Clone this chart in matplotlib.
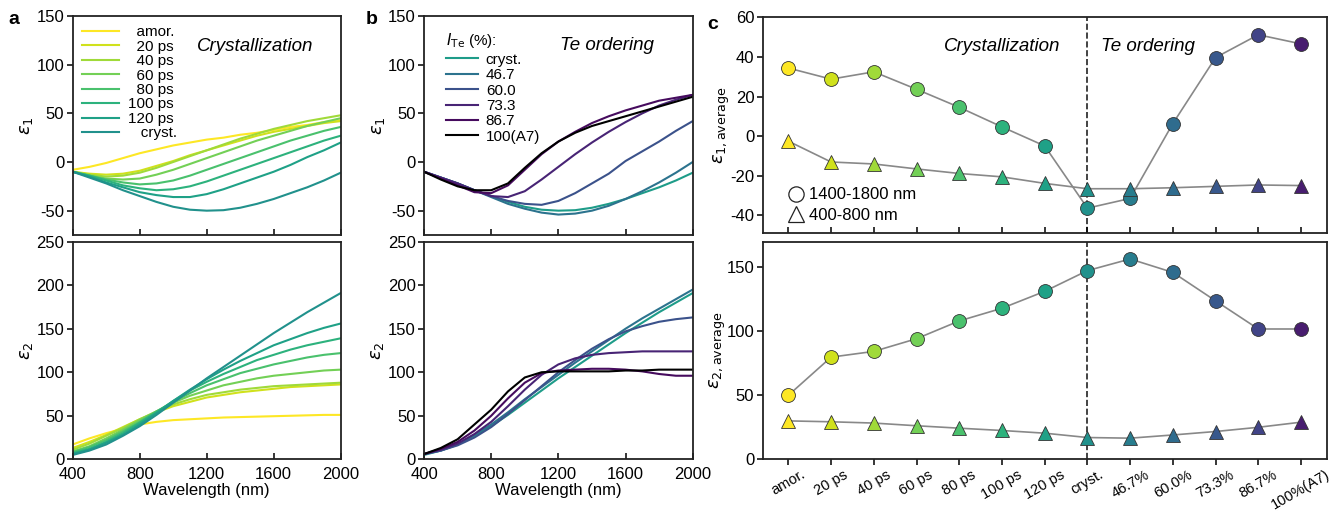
import numpy as np
import matplotlib
matplotlib.use('Agg')
import matplotlib.pyplot as plt
from matplotlib.lines import Line2D

plt.rcParams['font.family'] = ['Liberation Sans', 'DejaVu Sans']
plt.rcParams['font.size'] = 12
plt.rcParams['mathtext.fontset'] = 'dejavusans'
plt.rcParams['axes.unicode_minus'] = False

# wavelength grid (nm)
wl = [400, 500, 600, 700, 800, 900, 1000, 1100, 1200, 1300, 1400, 1500, 1600, 1700, 1800, 1900, 2000]

# crystallization series
cryst_labels = ['\u2007amor.', '\u200720 ps', '\u200740 ps', '\u200760 ps', '\u200780 ps',
                '100 ps', '120 ps', '\u2007 cryst.']
eps1_cryst = [
    [-8, -5, -1, 4, 9, 13, 17, 20, 23, 25, 28, 30, 33, 36, 38, 41, 43],
    [-10, -12, -13, -12, -9, -4, 1, 7, 12, 17, 22, 27, 31, 34, 37, 40, 42],
    [-10, -13, -15, -14, -11, -6, 0, 6, 12, 18, 24, 29, 34, 38, 42, 45, 48],
    [-10, -14, -17, -18, -17, -13, -8, -2, 4, 10, 16, 22, 27, 32, 37, 41, 45],
    [-10, -14, -18, -21, -23, -22, -19, -14, -8, -2, 4, 10, 16, 22, 27, 32, 36],
    [-10, -14, -19, -24, -27, -29, -28, -25, -20, -14, -8, -2, 4, 10, 16, 22, 27],
    [-10, -15, -21, -26, -31, -34, -36, -36, -33, -28, -22, -16, -10, -3, 5, 12, 20],
    [-10, -16, -22, -29, -35, -41, -46, -49, -50, -49.5, -47, -43, -38, -32, -26, -19, -11],
]
eps2_cryst = [
    [17, 24, 30, 35, 40, 43, 45, 46, 47, 48, 48.5, 49, 49.5, 50, 50.5, 51, 51],
    [13, 20, 28, 37, 46, 54, 61, 66, 71, 74, 77, 79, 81, 83, 84, 85, 86],
    [11, 18, 27, 36, 46, 55, 63, 69, 74, 77, 80, 82, 84, 85, 86, 87, 88],
    [9, 15, 24, 34, 45, 55, 65, 73, 79, 85, 89, 93, 96, 98, 100, 102, 103],
    [8, 14, 22, 32, 43, 55, 66, 76, 85, 92, 99, 104, 109, 113, 117, 120, 122],
    [7, 12, 20, 30, 42, 54, 67, 79, 89, 98, 106, 114, 120, 126, 131, 135, 139],
    [6, 11, 19, 28, 40, 53, 67, 80, 92, 103, 113, 122, 131, 138, 145, 151, 156],
    [5, 10, 17, 27, 38, 51, 65, 79, 93, 106, 119, 132, 145, 157, 169, 180, 191],
]

# Te ordering series
te_labels = ['cryst.', '46.7', '60.0', '73.3', '86.7', '100(A7)']
eps1_te = [
    [-10, -16, -22, -29, -35, -41, -46, -49, -50, -49.5, -47, -43, -38, -32, -26, -19, -11],
    [-10, -16, -22, -29, -36, -43, -48, -52, -54, -53, -50, -45, -38, -30, -21, -11, 0],
    [-10, -16, -22, -29, -35, -40, -43, -44, -40, -32, -22, -12, 1, 11, 21, 32, 42],
    [-10, -16, -22, -29, -35, -36, -30, -18, -5, 8, 20, 31, 41, 50, 58, 64, 69],
    [-10, -17, -24, -31, -32, -24, -8, 8, 21, 31, 40, 47, 53, 58, 63, 66, 69],
    [-10, -18, -25, -29, -29, -22, -6, 9, 21, 30, 37, 42, 47, 52, 57, 62, 67],
]
eps2_te = [
    [5, 10, 17, 27, 38, 51, 65, 79, 93, 106, 119, 132, 145, 157, 169, 180, 191],
    [6, 10, 17, 28, 40, 54, 69, 83, 97, 111, 124, 137, 150, 162, 173, 184, 195],
    [6, 10, 16, 25, 37, 52, 68, 84, 100, 114, 127, 138, 147, 153, 158, 161, 163],
    [6, 11, 18, 29, 43, 61, 80, 97, 109, 116, 120, 122, 123, 124, 124, 124, 124],
    [6, 12, 20, 33, 50, 70, 88, 99, 102, 103, 104, 104, 103, 101, 98, 96, 96],
    [6, 13, 23, 40, 57, 78, 94, 100, 101, 101, 101, 101, 102, 102, 103, 103, 103],
]

# spectral averages
states = ['amor.', '20 ps', '40 ps', '60 ps', '80 ps', '100 ps', '120 ps', 'cryst.',
          '46.7%', '60.0%', '73.3%', '86.7%', '100%(A7)']
e1_long = [34.4, 28.8, 32.5, 23.7, 14.6, 4.7, -4.9, -36.3, -31.4, 6.4, 39.7, 51.2, 46.6]
e1_short = [-2.5, -13, -14, -16.5, -18.8, -20.5, -23.8, -26.5, -26.5, -26, -25.3, -24.6, -24.9]
e2_long = [50, 79.8, 84.3, 94.2, 108.1, 118, 131.2, 147.4, 156.5, 146, 123.8, 101.8, 101.8]
e2_short = [30, 29.3, 28.3, 26.2, 24.3, 22.5, 20.4, 17, 16.5, 19, 21.7, 25, 29]

cmap = plt.get_cmap('viridis')
cols_a = [cmap(v) for v in np.linspace(1.0, 0.5, 8)]
cols_b = [cmap(0.55), cmap(0.38), cmap(0.25), cmap(0.1), cmap(0.03), 'black']
cols_c = [cmap(v) for v in np.linspace(1.0, 0.5, 8)] + [cmap(v) for v in [0.42, 0.35, 0.27, 0.2, 0.08]]

spine_col = '#222222'


def style(ax, xin=True):
    for s in ax.spines.values():
        s.set_linewidth(1.3)
        s.set_color(spine_col)
    ax.tick_params(axis='y', direction='out', length=4, width=1.1, labelsize=12, pad=2)
    ax.tick_params(axis='x', direction='in' if xin else 'out', length=4, width=1.1,
                   labelsize=12, pad=5.5 if xin else 4)


fig = plt.figure(figsize=(13.44, 5.11), dpi=100)

# panel a
a1 = fig.add_axes([0.0541, 0.5401, 0.1994, 0.4286])
a2 = fig.add_axes([0.0541, 0.1012, 0.1994, 0.4258])
for i in range(8):
    a1.plot(wl, eps1_cryst[i], color=cols_a[i], lw=1.5, label=cryst_labels[i])
    a2.plot(wl, eps2_cryst[i], color=cols_a[i], lw=1.5)
a1.set_xlim(400, 2000)
a1.set_ylim(-75, 150)
a1.set_yticks([-50, 0, 50, 100, 150])
a1.set_xticks([400, 800, 1200, 1600, 2000])
a1.set_xticklabels([])
a1.set_ylabel(r'$\varepsilon_1$', fontsize=13, labelpad=1)
a1.legend(loc='upper left', frameon=False, fontsize=11, handlelength=2.4,
          labelspacing=0.03, borderaxespad=0.2, handletextpad=0.6)
a1.text(0.68, 0.86, 'Crystallization', transform=a1.transAxes, ha='center', va='center',
        style='italic', fontsize=13.5)
a2.set_xlim(400, 2000)
a2.set_ylim(0, 250)
a2.set_xticks([400, 800, 1200, 1600, 2000])
a2.set_xlabel('Wavelength (nm)', fontsize=12, labelpad=1)
a2.set_ylabel(r'$\varepsilon_2$', fontsize=13, labelpad=1)
style(a1)
style(a2)

# panel b
b1 = fig.add_axes([0.3155, 0.5401, 0.1999, 0.4286])
b2 = fig.add_axes([0.3155, 0.1012, 0.1999, 0.4258])
for i in range(6):
    b1.plot(wl, eps1_te[i], color=cols_b[i], lw=1.5, label=te_labels[i])
    b2.plot(wl, eps2_te[i], color=cols_b[i], lw=1.5)
b1.set_xlim(400, 2000)
b1.set_ylim(-75, 150)
b1.set_yticks([-50, 0, 50, 100, 150])
b1.set_xticks([400, 800, 1200, 1600, 2000])
b1.set_xticklabels([])
b1.set_ylabel(r'$\varepsilon_1$', fontsize=13, labelpad=1)
leg = b1.legend(loc='upper left', bbox_to_anchor=(0.031, 0.994), frameon=False,
                fontsize=11, handlelength=2.1, labelspacing=0.09, borderaxespad=0.5,
                handletextpad=0.5, title=r'$I_{\mathrm{Te}}$ (%):', title_fontsize=11)
leg._legend_box.align = 'left'
leg._legend_box.sep = 2
b1.text(0.68, 0.865, 'Te ordering', transform=b1.transAxes, ha='center', va='center',
        style='italic', fontsize=13.5)
b2.set_xlim(400, 2000)
b2.set_ylim(0, 250)
b2.set_xticks([400, 800, 1200, 1600, 2000])
b2.set_xlabel('Wavelength (nm)', fontsize=12, labelpad=1)
b2.set_ylabel(r'$\varepsilon_2$', fontsize=13, labelpad=1)
style(b1)
style(b2)

# panel c
x = np.arange(len(states))
c1 = fig.add_axes([0.5675, 0.5434, 0.4196, 0.4227])
c2 = fig.add_axes([0.5675, 0.1012, 0.4196, 0.4258])
mk = dict(ms=10, mec='#333333', mew=0.6)
for ax, lo, sh in [(c1, e1_long, e1_short), (c2, e2_long, e2_short)]:
    ax.plot(x, lo, color='#888888', lw=1.2, zorder=1)
    ax.plot(x, sh, color='#888888', lw=1.2, zorder=1)
    for i in range(len(states)):
        ax.plot(x[i], lo[i], 'o', color=cols_c[i], zorder=3, **mk)
        ax.plot(x[i], sh[i], '^', color=cols_c[i], zorder=3, **mk)
    ax.axvline(7, color='#222222', ls='--', lw=1.2, zorder=0)
    ax.set_xlim(-0.6, 12.6)
    ax.set_xticks(x)

c1.set_ylim(-49, 60)
c1.set_yticks([-40, -20, 0, 20, 40, 60])
c1.set_xticklabels([])
c1.set_ylabel(r'$\varepsilon_{1,\mathrm{average}}$', fontsize=13, labelpad=-1)
c1.text(5.0, 45.5, 'Crystallization', ha='center', va='center', style='italic', fontsize=13.5)
c1.text(8.42, 45.5, 'Te ordering', ha='center', va='center', style='italic', fontsize=13.5)
handles = [Line2D([], [], marker='o', ls='none', mfc='none', mec='#222222', ms=11, mew=0.9),
           Line2D([], [], marker='^', ls='none', mfc='none', mec='#222222', ms=11, mew=0.9)]
c1.legend(handles, ['1400-1800 nm', '400-800 nm'], loc='lower left',
          bbox_to_anchor=(0.023, 0.0), frameon=False, fontsize=12, handlelength=1.2,
          handletextpad=0.2, labelspacing=0.35, borderaxespad=0.2)

c2.set_ylim(0, 170)
c2.set_yticks([0, 50, 100, 150])
c2.set_xticklabels(states, rotation=30, ha='center')
c2.set_ylabel(r'$\varepsilon_{2,\mathrm{average}}$', fontsize=13, labelpad=-1)
style(c1)
style(c2, xin=False)
c2.tick_params(axis='x', labelsize=10.5, pad=2)

for lbl, xp, yp in [('a', 0.006, 0.962), ('b', 0.272, 0.962), ('c', 0.526, 0.953)]:
    fig.text(xp, yp, lbl, fontsize=14, fontweight='bold', ha='left', va='center')

fig.savefig('out.png', dpi=100)
